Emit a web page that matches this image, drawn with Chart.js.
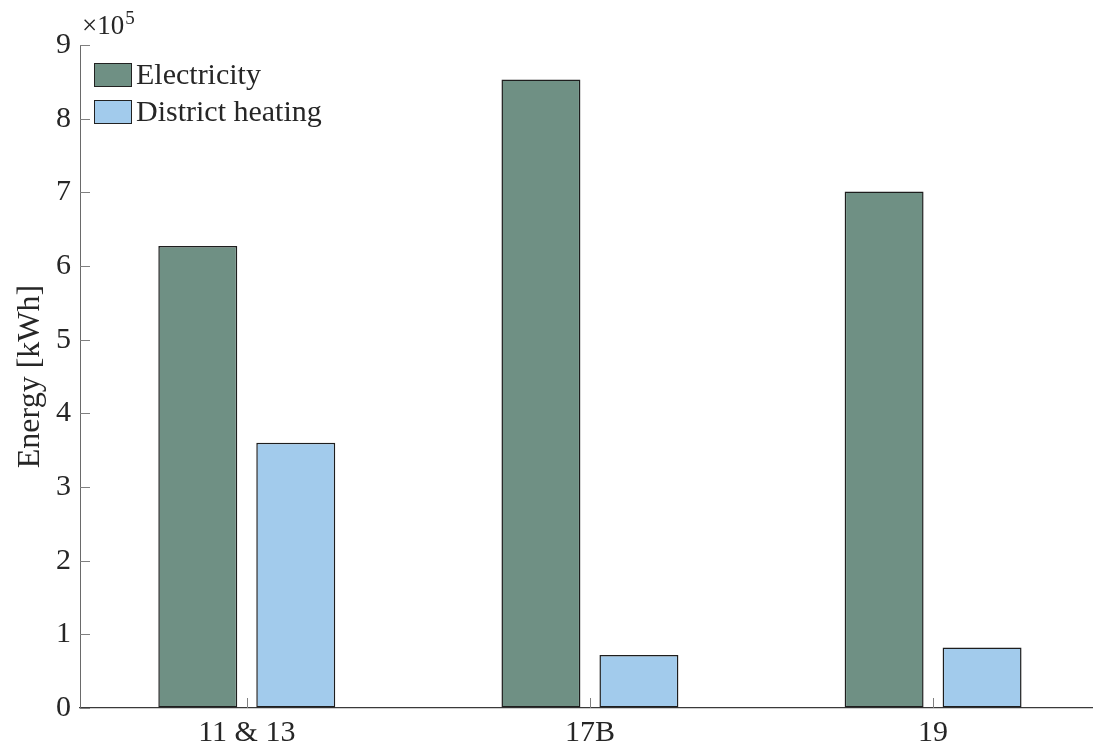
<!DOCTYPE html>
<html>
<head>
<meta charset="utf-8">
<script src="https://cdn.jsdelivr.net/npm/chart.js@4/dist/chart.umd.min.js"></script>
<style>
  html, body { margin: 0; padding: 0; background: #ffffff; overflow: hidden; }
  #wrap { width: 1093px; height: 749px; }
</style>
</head>
<body>
<div id="wrap"><canvas id="c" width="1093" height="749"></canvas></div>
<script>
// Buildings and their annual energy use (×10^5 kWh)
const categories = ['11 & 13', '17B', '19'];
const electricity = [6.27, 8.53, 7.01];
const districtHeating = [3.60, 0.72, 0.82];
const yTicks = [0, 1, 2, 3, 4, 5, 6, 7, 8, 9];
const seriesNames = ['Electricity', 'District heating'];

const SERIF = '"Liberation Serif", "Times New Roman", serif';
const TEXT = '#262626';
const AXIS = '#3a3a3a';

const positions = categories.map((_, i) => i + 1);
const toPoints = vals => vals.map((v, i) => ({ x: positions[i], y: v }));

// Inward tick marks (y ticks pointing right, x ticks pointing up) and the exponent label
const innerTicks = {
  id: 'innerTicks',
  afterDraw(chart) {
    const { ctx, chartArea, scales: { x, y } } = chart;
    ctx.save();
    ctx.strokeStyle = '#808080';
    ctx.lineWidth = 1;
    ctx.beginPath();
    yTicks.forEach(v => {
      const py = Math.round(y.getPixelForValue(v)) + 0.5;
      ctx.moveTo(chartArea.left, py);
      ctx.lineTo(chartArea.left + 10, py);
    });
    positions.forEach(v => {
      const px = Math.round(x.getPixelForValue(v)) + 0.5;
      ctx.moveTo(px, chartArea.bottom);
      ctx.lineTo(px, chartArea.bottom - 10);
    });
    ctx.stroke();

    ctx.fillStyle = TEXT;
    ctx.textBaseline = 'alphabetic';
    ctx.textAlign = 'left';
    ctx.font = '27px ' + SERIF;
    ctx.fillText('×10', chartArea.left + 2, 34);
    const w = ctx.measureText('×10').width;
    ctx.font = '19px ' + SERIF;
    ctx.fillText('5', chartArea.left + 2 + w + 1, 24);
    ctx.restore();
  }
};

// Legend in the upper-left corner of the plot area
const cornerLegend = {
  id: 'cornerLegend',
  afterDraw(chart) {
    const { ctx, chartArea } = chart;
    ctx.save();
    chart.data.datasets.forEach((ds, i) => {
      const bx = chartArea.left + 14;
      const by = chartArea.top + 18 + i * 37;
      ctx.fillStyle = ds.backgroundColor;
      ctx.fillRect(bx, by, 38, 24);
      ctx.strokeStyle = '#222222';
      ctx.lineWidth = 1;
      ctx.strokeRect(bx + 0.5, by + 0.5, 37, 23);
      ctx.fillStyle = TEXT;
      ctx.font = '30px ' + SERIF;
      ctx.textAlign = 'left';
      ctx.textBaseline = 'middle';
      ctx.fillText(ds.label, bx + 42, by + 13);
    });
    ctx.restore();
  }
};

new Chart(document.getElementById('c'), {
  type: 'bar',
  data: {
    datasets: [
      {
        label: seriesNames[0],
        data: toPoints(electricity),
        backgroundColor: '#6f9084',
        borderColor: '#1e1e1e',
        borderWidth: 1.5,
        borderSkipped: false
      },
      {
        label: seriesNames[1],
        data: toPoints(districtHeating),
        backgroundColor: '#a2cbec',
        borderColor: '#1e1e1e',
        borderWidth: 1.5,
        borderSkipped: false
      }
    ]
  },
  plugins: [innerTicks, cornerLegend],
  options: {
    responsive: false,
    animation: false,
    devicePixelRatio: 1,
    categoryPercentage: 0.571,
    barPercentage: 0.806,
    layout: { padding: { top: 45, right: 0, left: 0, bottom: 0 } },
    plugins: {
      legend: { display: false },
      tooltip: { enabled: false }
    },
    scales: {
      x: {
        type: 'linear',
        min: 0.514,
        max: 3.466,
        offset: false,
        afterBuildTicks: scale => { scale.ticks = positions.map(v => ({ value: v })); },
        afterFit: scale => { scale.height = 41; },
        grid: { display: true, drawOnChartArea: false, drawTicks: false },
        border: { display: true, color: AXIS, width: 1.3 },
        ticks: {
          padding: 7,
          maxRotation: 0,
          autoSkip: false,
          color: TEXT,
          font: { family: SERIF, size: 30 },
          callback: (v, i) => categories[i]
        }
      },
      y: {
        min: 0,
        max: 9,
        afterBuildTicks: scale => { scale.ticks = yTicks.map(v => ({ value: v })); },
        afterFit: scale => { scale.width = 80; },
        grid: { display: true, drawOnChartArea: false, drawTicks: false },
        border: { display: true, color: '#6a6a6a', width: 1 },
        ticks: {
          padding: 9,
          color: TEXT,
          font: { family: SERIF, size: 30 }
        },
        title: {
          display: true,
          text: 'Energy [kWh]',
          color: TEXT,
          font: { family: SERIF, size: 32 },
          padding: { top: 11, bottom: 0 }
        }
      }
    }
  }
});
</script>
</body>
</html>
